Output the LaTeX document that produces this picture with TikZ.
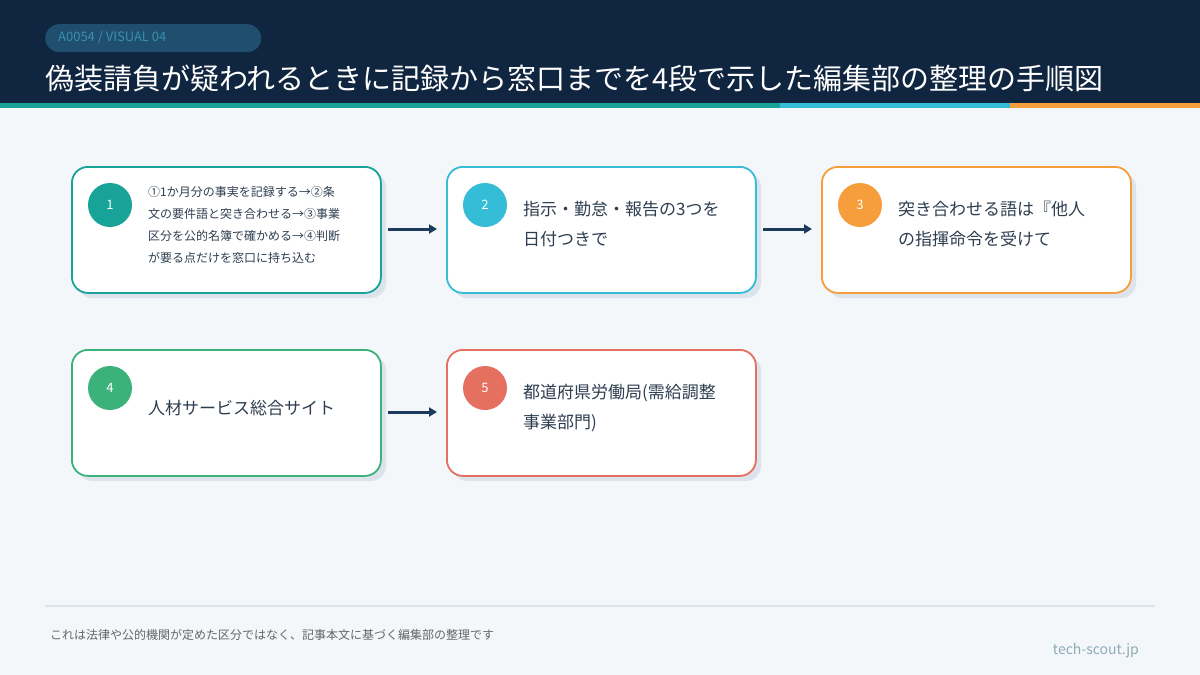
\documentclass[tikz,border=0pt]{standalone}
\usepackage{fontspec}
\setmainfont{Noto Sans CJK JP}
\usetikzlibrary{arrows.meta}
\definecolor{navy}{HTML}{10253F}
\definecolor{pill}{HTML}{1F4E6E}
\definecolor{pilltxt}{HTML}{3A8FB0}
\definecolor{bg}{HTML}{F3F7FA}
\definecolor{cA}{HTML}{17A398}
\definecolor{cB}{HTML}{35BCD6}
\definecolor{cC}{HTML}{F59E3B}
\definecolor{cD}{HTML}{3BB27A}
\definecolor{cE}{HTML}{E5705F}
\definecolor{shadow}{HTML}{DCE3EA}
\definecolor{arr}{HTML}{1B3A5C}
\definecolor{txt}{HTML}{2E3E50}
\begin{document}
\begin{tikzpicture}[x=1pt,y=-1pt,
  card/.style={draw=#1,line width=1.8pt,fill=white,rounded corners=16pt,minimum width=309pt,minimum height=126pt,anchor=north west,inner sep=0pt},
  shad/.style={fill=shadow,rounded corners=16pt,minimum width=309pt,minimum height=126pt,anchor=north west,inner sep=0pt},
  num/.style={circle,fill=#1,minimum size=44pt,inner sep=0pt,text=white,font=\fontsize{13}{13}\selectfont},
  body/.style={anchor=north west,align=left,text=txt,font=\fontsize{17}{30}\selectfont,inner sep=0pt},
  flow/.style={draw=arr,line width=3pt,-{Triangle[length=8pt,width=9pt]}}]
\useasboundingbox (0,0) rectangle (1200,675);
\fill[bg] (0,0) rectangle (1200,675);
\fill[navy] (0,0) rectangle (1200,103);
\fill[cA] (0,103) rectangle (780,108);
\fill[cB] (780,103) rectangle (1010,108);
\fill[cC] (1010,103) rectangle (1200,108);
\node[fill=pill,rounded corners=14pt,minimum width=216pt,minimum height=28pt,anchor=north west,inner sep=0pt] (pill) at (45,24) {};
\node[anchor=west,text=pilltxt,font=\fontsize{13}{13}\selectfont,inner sep=0pt] (tag) at (58,38) {A0054 / VISUAL 04};
\node[anchor=west,text=white,font=\fontsize{29}{29}\selectfont,inner sep=0pt] (title) at (45,78) {偽装請負が疑われるときに記録から窓口までを4段で示した編集部の整理の手順図};
% shadows
\foreach \x/\y in {71/166,446/166,821/166,71/349,446/349}
  \node[shad] at (\x+6,\y+6) {};
\node[card=cA] (b1) at (71,166) {};
\node[card=cB] (b2) at (446,166) {};
\node[card=cC] (b3) at (821,166) {};
\node[card=cD] (b4) at (71,349) {};
\node[card=cE] (b5) at (446,349) {};
\node[num=cA] (n1) at (110,205) {1};
\node[num=cB] (n2) at (485,205) {2};
\node[num=cC] (n3) at (860,205) {3};
\node[num=cD] (n4) at (110,388) {4};
\node[num=cE] (n5) at (485,388) {5};
\node[body,font=\fontsize{12}{22}\selectfont] (t1) at (148,186) {①1か月分の事実を記録する→②条\\文の要件語と突き合わせる→③事業\\区分を公的名簿で確かめる→④判断\\が要る点だけを窓口に持ち込む};
\node[body] (t2) at (523,201) {指示・勤怠・報告の3つを\\日付つきで};
\node[body] (t3) at (898,201) {突き合わせる語は『他人\\の指揮命令を受けて};
\node[body] (t4) at (148,400) {人材サービス総合サイト};
\node[body] (t5) at (523,384) {都道府県労働局(需給調整\\事業部門)};
\coordinate (a1s) at (388,229); \coordinate (a1e) at (437,229);
\coordinate (a2s) at (763,229); \coordinate (a2e) at (812,229);
\coordinate (a3s) at (388,412); \coordinate (a3e) at (437,412);
\draw[flow] (a1s) -- (a1e);
\draw[flow] (a2s) -- (a2e);
\draw[flow] (a3s) -- (a3e);
\draw[draw=shadow,line width=2pt] (45,606) -- (1155,606);
\node[anchor=west,text=gray!80!black,font=\fontsize{12}{12}\selectfont,inner sep=0pt] (foot) at (50,635) {これは法律や公的機関が定めた区分ではなく、記事本文に基づく編集部の整理です};
\node[anchor=east,text=pilltxt!50!gray!70,font=\fontsize{14}{14}\selectfont,inner sep=0pt] (site) at (1139,651) {tech-scout.jp};
\end{tikzpicture}
\end{document}
